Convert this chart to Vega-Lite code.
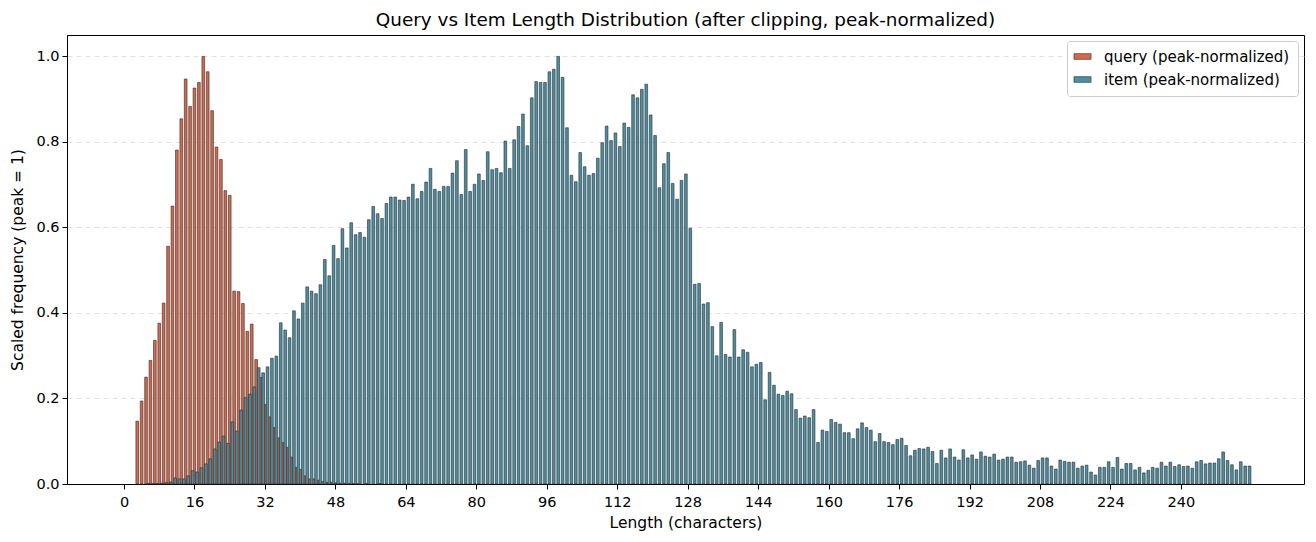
{
  "$schema": "https://vega.github.io/schema/vega-lite/v6.json",
  "width": 1237,
  "height": 449,
  "autosize": "none",
  "padding": {"left": 67, "top": 35, "right": 12, "bottom": 58},
  "background": "white",
  "title": {"text": "Query vs Item Length Distribution (after clipping, peak-normalized)", "font": "DejaVu Sans", "fontSize": 18.4, "fontWeight": "normal", "color": "black", "offset": 6},
  "config": {
    "view": {"stroke": "black", "strokeWidth": 1},
    "axis": {"labelFont": "DejaVu Sans", "titleFont": "DejaVu Sans", "labelFontSize": 14.5, "titleFontSize": 15.5, "titleFontWeight": "normal", "labelColor": "black", "titleColor": "black", "domainColor": "black", "tickColor": "black", "tickSize": 5, "labelPadding": 3}
  },
  "datasets": {
    "query": [
      {"length": 3, "value": 0.147}, {"length": 4, "value": 0.194}, {"length": 5, "value": 0.25}, {"length": 6, "value": 0.289}, {"length": 7, "value": 0.336}, {"length": 8, "value": 0.376}, {"length": 9, "value": 0.423}, {"length": 10, "value": 0.556}, {"length": 11, "value": 0.65}, {"length": 12, "value": 0.781}, {"length": 13, "value": 0.854}, {"length": 14, "value": 0.947}, {"length": 15, "value": 0.883}, {"length": 16, "value": 0.926}, {"length": 17, "value": 0.939}, {"length": 18, "value": 1.0}, {"length": 19, "value": 0.964}, {"length": 20, "value": 0.873}, {"length": 21, "value": 0.788}, {"length": 22, "value": 0.759}, {"length": 23, "value": 0.686}, {"length": 24, "value": 0.675}, {"length": 25, "value": 0.451}, {"length": 26, "value": 0.45}, {"length": 27, "value": 0.422}, {"length": 28, "value": 0.357}, {"length": 29, "value": 0.374}, {"length": 30, "value": 0.291}, {"length": 31, "value": 0.249}, {"length": 32, "value": 0.186}, {"length": 33, "value": 0.157}, {"length": 34, "value": 0.132}, {"length": 35, "value": 0.108}, {"length": 36, "value": 0.097}, {"length": 37, "value": 0.086}, {"length": 38, "value": 0.063}, {"length": 39, "value": 0.039}, {"length": 40, "value": 0.034}, {"length": 41, "value": 0.019}, {"length": 42, "value": 0.012}, {"length": 43, "value": 0.012}, {"length": 44, "value": 0.009}, {"length": 45, "value": 0.006}, {"length": 46, "value": 0.004}, {"length": 47, "value": 0.004}, {"length": 48, "value": 0.003}, {"length": 49, "value": 0.002}, {"length": 50, "value": 0.002}, {"length": 51, "value": 0.001}, {"length": 52, "value": 0.001}, {"length": 53, "value": 0.001}, {"length": 55, "value": 0.001}, {"length": 58, "value": 0.001}
    ],
    "item": [
      {"length": 5, "value": 0.001}, {"length": 6, "value": 0.001}, {"length": 7, "value": 0.001}, {"length": 8, "value": 0.002}, {"length": 9, "value": 0.003}, {"length": 10, "value": 0.005}, {"length": 11, "value": 0.014}, {"length": 12, "value": 0.012}, {"length": 13, "value": 0.012}, {"length": 14, "value": 0.019}, {"length": 15, "value": 0.031}, {"length": 16, "value": 0.028}, {"length": 17, "value": 0.038}, {"length": 18, "value": 0.047}, {"length": 19, "value": 0.059}, {"length": 20, "value": 0.082}, {"length": 21, "value": 0.098}, {"length": 22, "value": 0.112}, {"length": 23, "value": 0.095}, {"length": 24, "value": 0.145}, {"length": 25, "value": 0.124}, {"length": 26, "value": 0.173}, {"length": 27, "value": 0.202}, {"length": 28, "value": 0.21}, {"length": 29, "value": 0.227}, {"length": 30, "value": 0.272}, {"length": 31, "value": 0.26}, {"length": 32, "value": 0.274}, {"length": 33, "value": 0.294}, {"length": 34, "value": 0.299}, {"length": 35, "value": 0.377}, {"length": 36, "value": 0.36}, {"length": 37, "value": 0.342}, {"length": 38, "value": 0.405}, {"length": 39, "value": 0.386}, {"length": 40, "value": 0.423}, {"length": 41, "value": 0.461}, {"length": 42, "value": 0.451}, {"length": 43, "value": 0.445}, {"length": 44, "value": 0.466}, {"length": 45, "value": 0.525}, {"length": 46, "value": 0.487}, {"length": 47, "value": 0.558}, {"length": 48, "value": 0.527}, {"length": 49, "value": 0.597}, {"length": 50, "value": 0.552}, {"length": 51, "value": 0.611}, {"length": 52, "value": 0.583}, {"length": 53, "value": 0.588}, {"length": 54, "value": 0.577}, {"length": 55, "value": 0.618}, {"length": 56, "value": 0.649}, {"length": 57, "value": 0.632}, {"length": 58, "value": 0.621}, {"length": 59, "value": 0.656}, {"length": 60, "value": 0.671}, {"length": 61, "value": 0.671}, {"length": 62, "value": 0.664}, {"length": 63, "value": 0.663}, {"length": 64, "value": 0.671}, {"length": 65, "value": 0.701}, {"length": 66, "value": 0.667}, {"length": 67, "value": 0.684}, {"length": 68, "value": 0.706}, {"length": 69, "value": 0.738}, {"length": 70, "value": 0.689}, {"length": 71, "value": 0.684}, {"length": 72, "value": 0.696}, {"length": 73, "value": 0.696}, {"length": 74, "value": 0.727}, {"length": 75, "value": 0.756}, {"length": 76, "value": 0.677}, {"length": 77, "value": 0.782}, {"length": 78, "value": 0.684}, {"length": 79, "value": 0.701}, {"length": 80, "value": 0.725}, {"length": 81, "value": 0.71}, {"length": 82, "value": 0.777}, {"length": 83, "value": 0.735}, {"length": 84, "value": 0.738}, {"length": 85, "value": 0.728}, {"length": 86, "value": 0.802}, {"length": 87, "value": 0.738}, {"length": 88, "value": 0.805}, {"length": 89, "value": 0.836}, {"length": 90, "value": 0.865}, {"length": 91, "value": 0.791}, {"length": 92, "value": 0.903}, {"length": 93, "value": 0.941}, {"length": 94, "value": 0.939}, {"length": 95, "value": 0.939}, {"length": 96, "value": 0.964}, {"length": 97, "value": 0.97}, {"length": 98, "value": 1.0}, {"length": 99, "value": 0.951}, {"length": 100, "value": 0.833}, {"length": 101, "value": 0.722}, {"length": 102, "value": 0.707}, {"length": 103, "value": 0.775}, {"length": 104, "value": 0.742}, {"length": 105, "value": 0.722}, {"length": 106, "value": 0.726}, {"length": 107, "value": 0.762}, {"length": 108, "value": 0.798}, {"length": 109, "value": 0.837}, {"length": 110, "value": 0.803}, {"length": 111, "value": 0.821}, {"length": 112, "value": 0.789}, {"length": 113, "value": 0.844}, {"length": 114, "value": 0.834}, {"length": 115, "value": 0.91}, {"length": 116, "value": 0.903}, {"length": 117, "value": 0.923}, {"length": 118, "value": 0.935}, {"length": 119, "value": 0.863}, {"length": 120, "value": 0.815}, {"length": 121, "value": 0.693}, {"length": 122, "value": 0.749}, {"length": 123, "value": 0.775}, {"length": 124, "value": 0.703}, {"length": 125, "value": 0.666}, {"length": 126, "value": 0.71}, {"length": 127, "value": 0.725}, {"length": 128, "value": 0.598}, {"length": 129, "value": 0.467}, {"length": 130, "value": 0.469}, {"length": 131, "value": 0.421}, {"length": 132, "value": 0.424}, {"length": 133, "value": 0.368}, {"length": 134, "value": 0.3}, {"length": 135, "value": 0.378}, {"length": 136, "value": 0.303}, {"length": 137, "value": 0.297}, {"length": 138, "value": 0.361}, {"length": 139, "value": 0.297}, {"length": 140, "value": 0.314}, {"length": 141, "value": 0.308}, {"length": 142, "value": 0.274}, {"length": 143, "value": 0.28}, {"length": 144, "value": 0.284}, {"length": 145, "value": 0.197}, {"length": 146, "value": 0.261}, {"length": 147, "value": 0.231}, {"length": 148, "value": 0.21}, {"length": 149, "value": 0.207}, {"length": 150, "value": 0.217}, {"length": 151, "value": 0.211}, {"length": 152, "value": 0.174}, {"length": 153, "value": 0.154}, {"length": 154, "value": 0.159}, {"length": 155, "value": 0.155}, {"length": 156, "value": 0.174}, {"length": 157, "value": 0.097}, {"length": 158, "value": 0.126}, {"length": 159, "value": 0.123}, {"length": 160, "value": 0.151}, {"length": 161, "value": 0.144}, {"length": 162, "value": 0.14}, {"length": 163, "value": 0.12}, {"length": 164, "value": 0.12}, {"length": 165, "value": 0.106}, {"length": 166, "value": 0.129}, {"length": 167, "value": 0.143}, {"length": 168, "value": 0.132}, {"length": 169, "value": 0.126}, {"length": 170, "value": 0.099}, {"length": 171, "value": 0.118}, {"length": 172, "value": 0.099}, {"length": 173, "value": 0.097}, {"length": 174, "value": 0.092}, {"length": 175, "value": 0.104}, {"length": 176, "value": 0.107}, {"length": 177, "value": 0.09}, {"length": 178, "value": 0.066}, {"length": 179, "value": 0.079}, {"length": 180, "value": 0.083}, {"length": 181, "value": 0.082}, {"length": 182, "value": 0.086}, {"length": 183, "value": 0.076}, {"length": 184, "value": 0.048}, {"length": 185, "value": 0.079}, {"length": 186, "value": 0.061}, {"length": 187, "value": 0.082}, {"length": 188, "value": 0.063}, {"length": 189, "value": 0.056}, {"length": 190, "value": 0.08}, {"length": 191, "value": 0.061}, {"length": 192, "value": 0.068}, {"length": 193, "value": 0.058}, {"length": 194, "value": 0.075}, {"length": 195, "value": 0.065}, {"length": 196, "value": 0.063}, {"length": 197, "value": 0.07}, {"length": 198, "value": 0.056}, {"length": 199, "value": 0.058}, {"length": 200, "value": 0.063}, {"length": 201, "value": 0.063}, {"length": 202, "value": 0.051}, {"length": 203, "value": 0.052}, {"length": 204, "value": 0.054}, {"length": 205, "value": 0.044}, {"length": 206, "value": 0.037}, {"length": 207, "value": 0.055}, {"length": 208, "value": 0.061}, {"length": 209, "value": 0.061}, {"length": 210, "value": 0.042}, {"length": 211, "value": 0.035}, {"length": 212, "value": 0.056}, {"length": 213, "value": 0.053}, {"length": 214, "value": 0.051}, {"length": 215, "value": 0.051}, {"length": 216, "value": 0.037}, {"length": 217, "value": 0.042}, {"length": 218, "value": 0.044}, {"length": 219, "value": 0.028}, {"length": 220, "value": 0.021}, {"length": 221, "value": 0.039}, {"length": 222, "value": 0.039}, {"length": 223, "value": 0.052}, {"length": 224, "value": 0.039}, {"length": 225, "value": 0.062}, {"length": 226, "value": 0.035}, {"length": 227, "value": 0.048}, {"length": 228, "value": 0.048}, {"length": 229, "value": 0.033}, {"length": 230, "value": 0.039}, {"length": 231, "value": 0.026}, {"length": 232, "value": 0.032}, {"length": 233, "value": 0.039}, {"length": 234, "value": 0.037}, {"length": 235, "value": 0.051}, {"length": 236, "value": 0.042}, {"length": 237, "value": 0.051}, {"length": 238, "value": 0.041}, {"length": 239, "value": 0.045}, {"length": 240, "value": 0.041}, {"length": 241, "value": 0.042}, {"length": 242, "value": 0.037}, {"length": 243, "value": 0.052}, {"length": 244, "value": 0.055}, {"length": 245, "value": 0.047}, {"length": 246, "value": 0.049}, {"length": 247, "value": 0.049}, {"length": 248, "value": 0.059}, {"length": 249, "value": 0.075}, {"length": 250, "value": 0.055}, {"length": 251, "value": 0.045}, {"length": 252, "value": 0.033}, {"length": 253, "value": 0.052}, {"length": 254, "value": 0.042}, {"length": 255, "value": 0.042}
    ]
  },
  "layer": [
    {
      "data": {"name": "query"},
      "mark": {"type": "bar", "width": 2.7, "stroke": "#2b2b2b", "strokeWidth": 0.6},
      "encoding": {
        "x": {"field": "length", "type": "quantitative", "scale": {"domain": [-12.95, 267.95], "nice": false, "zero": false, "padding": 0}, "axis": {"values": [0, 16, 32, 48, 64, 80, 96, 112, 128, 144, 160, 176, 192, 208, 224, 240], "title": "Length (characters)", "grid": false, "labelPadding": 6, "titlePadding": 7}},
        "y": {"field": "value", "type": "quantitative", "scale": {"domain": [0, 1.05], "nice": false, "padding": 0}, "axis": {"values": [0, 0.2, 0.4, 0.6, 0.8, 1.0], "format": ".1f", "title": "Scaled frequency (peak = 1)", "grid": true, "gridColor": "#d9d9d9", "gridDash": [5, 4], "gridWidth": 0.8, "titlePadding": 10}},
        "color": {"datum": "query (peak-normalized)", "type": "nominal", "scale": {"domain": ["query (peak-normalized)", "item (peak-normalized)"], "range": ["#d6684b", "#4a8fa3"]}, "legend": {"orient": "top-right", "title": null, "offset": 6, "symbolType": "M-1.5,-0.5H1.5V0.5H-1.5Z", "symbolSize": 130, "symbolStrokeColor": "#333333", "symbolStrokeWidth": 0.6, "symbolOpacity": 1, "labelFont": "DejaVu Sans", "labelFontSize": 15, "labelLimit": 400, "labelColor": "black", "labelOffset": 14, "rowPadding": 7, "padding": 8, "strokeColor": "#cccccc", "fillColor": "white", "cornerRadius": 3}}
      }
    },
    {
      "data": {"name": "item"},
      "mark": {"type": "bar", "width": 2.7, "xOffset": 2.6, "stroke": "#2b2b2b", "strokeWidth": 0.6},
      "encoding": {
        "x": {"field": "length", "type": "quantitative"},
        "y": {"field": "value", "type": "quantitative"},
        "color": {"datum": "item (peak-normalized)", "type": "nominal"}
      }
    }
  ]
}
